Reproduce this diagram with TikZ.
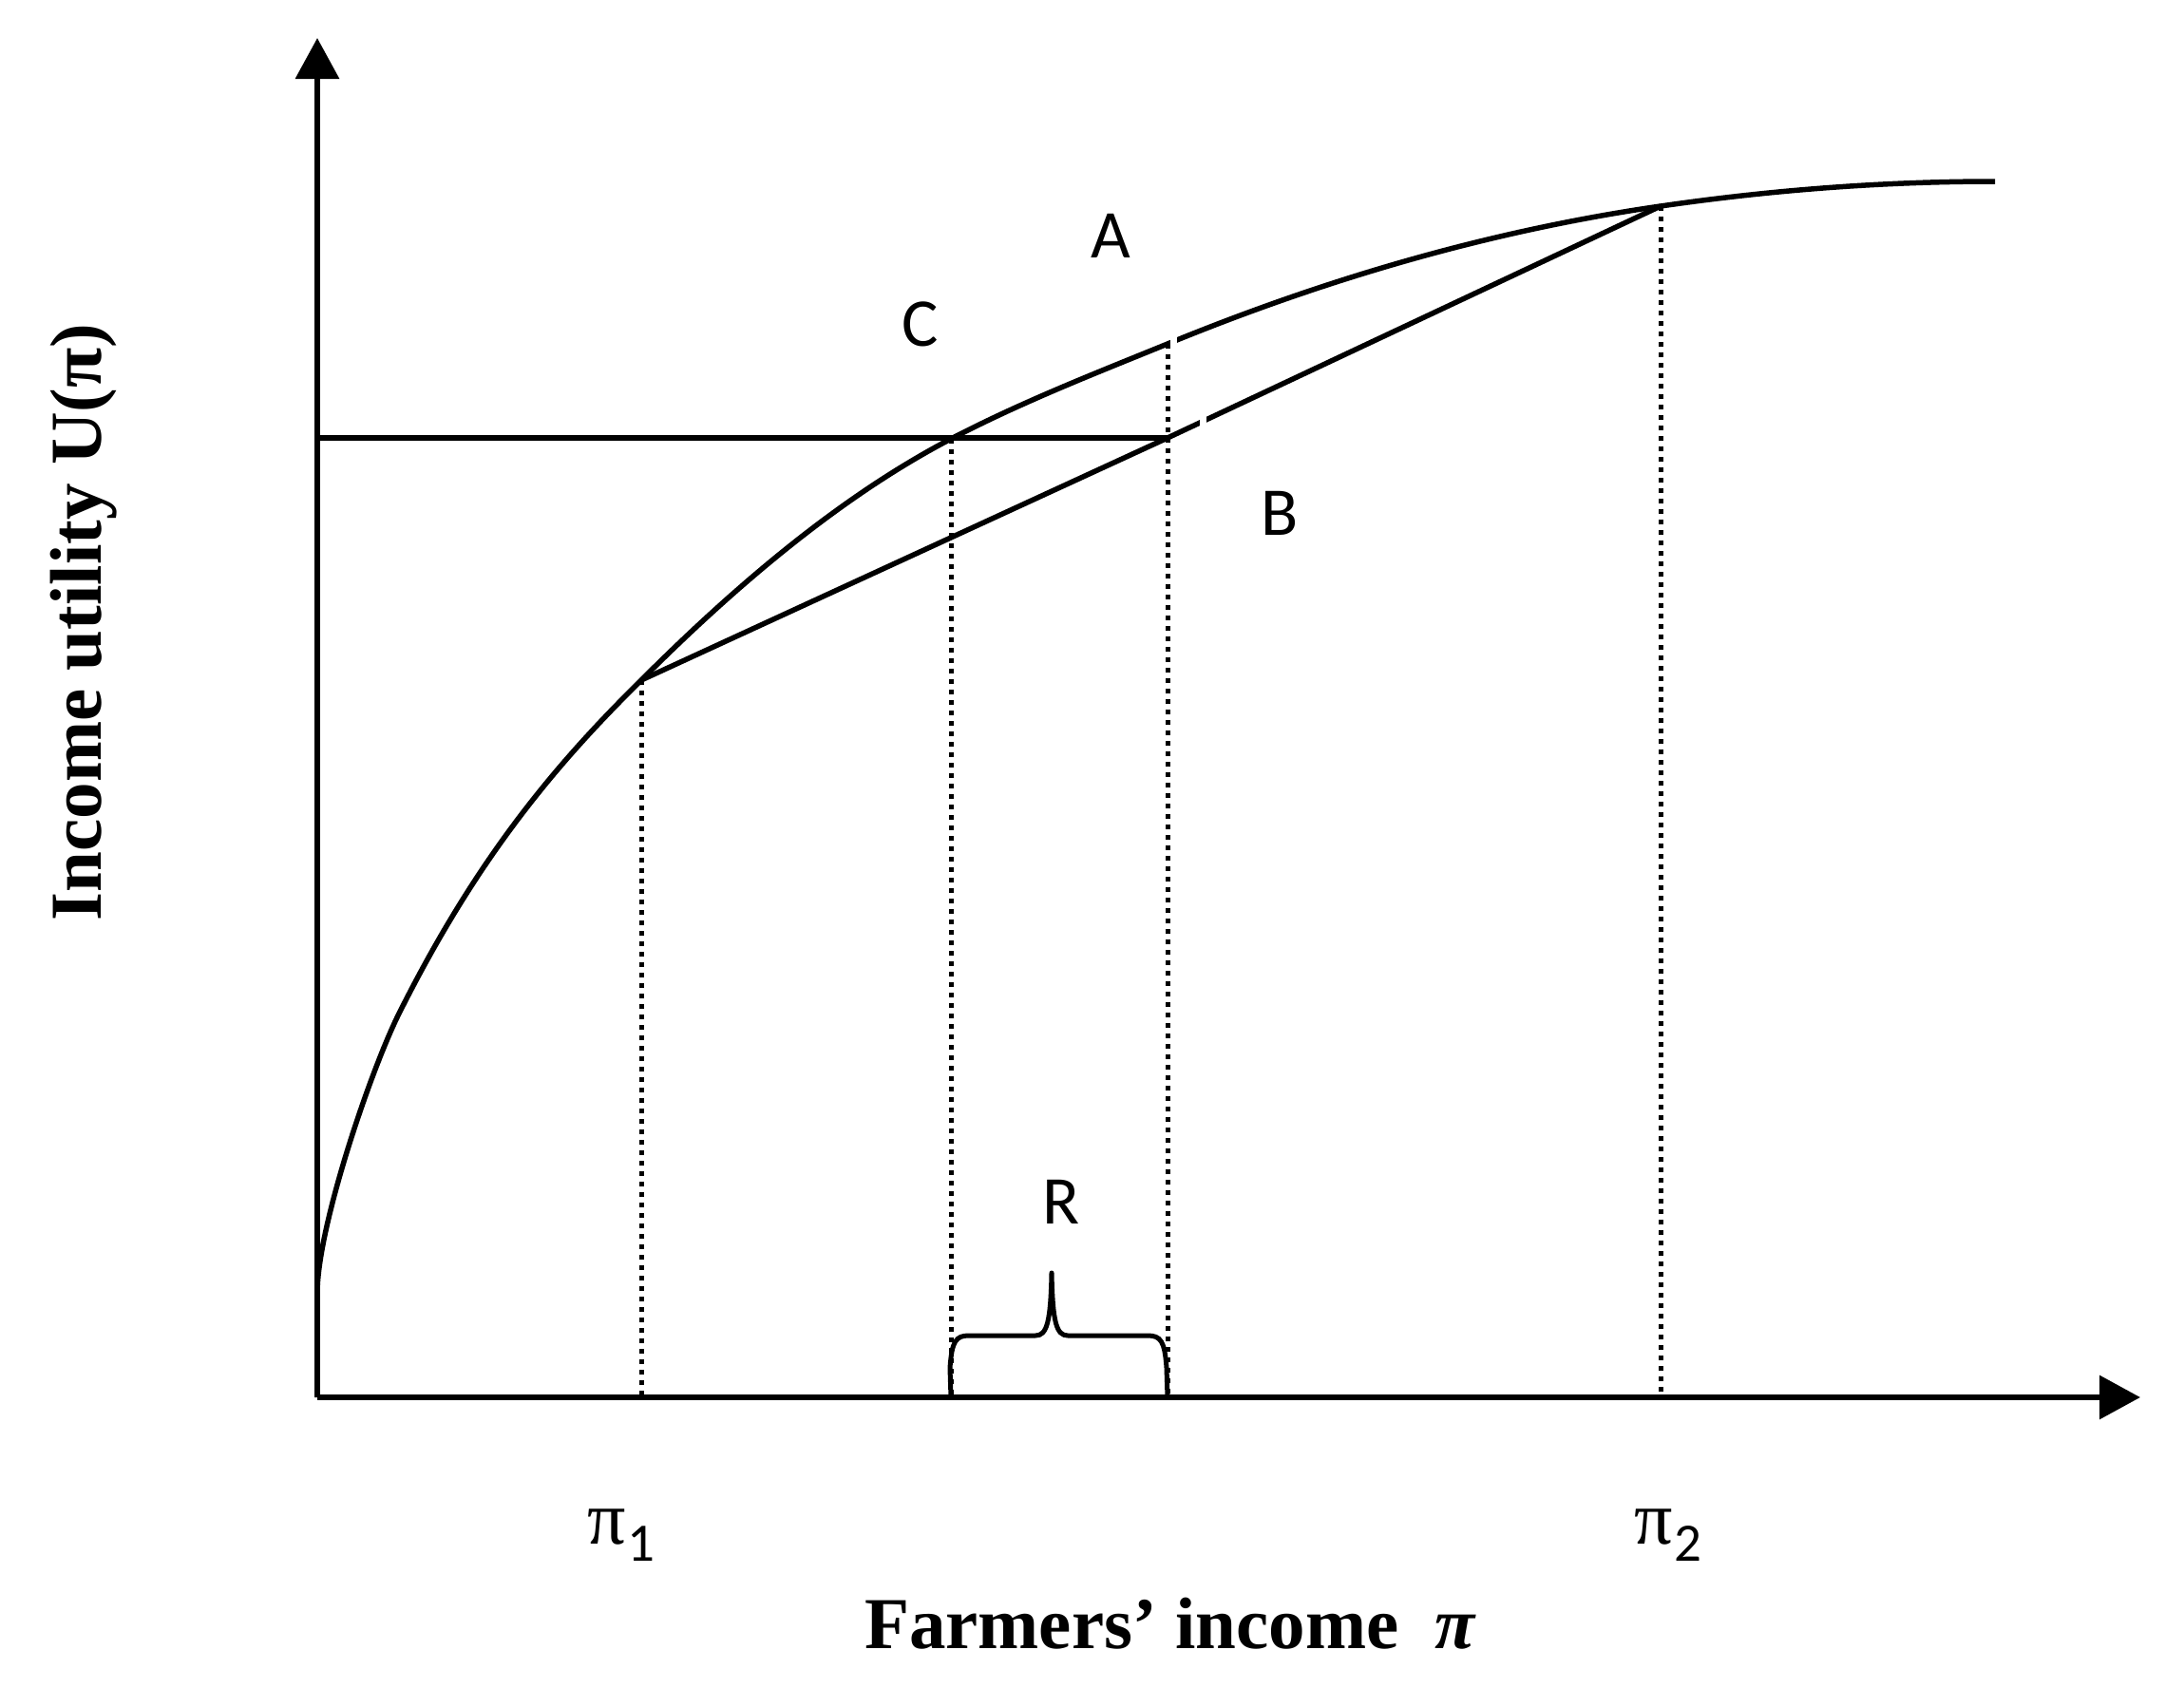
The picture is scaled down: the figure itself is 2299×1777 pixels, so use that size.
\documentclass[tikz,border=0pt]{standalone}
\usepackage{fontspec}
\setmainfont{Liberation Serif}
\newfontfamily\carl{Carlito}
\usetikzlibrary{arrows.meta}
\begin{document}
\begin{tikzpicture}[x=1pt,y=-1pt,
  axis/.style={line width=6.5pt, -{Triangle[length=43pt,width=45pt]}},
  curveline/.style={line width=5.5pt, line join=round},
  guide/.style={line width=5pt, dash pattern=on 4.5pt off 6.5pt},
  gap/.style={white, line width=7pt},
  lbl/.style={font=\carl\fontsize{72}{80}\selectfont, inner sep=0pt},
  pilbl/.style={inner sep=0pt, anchor=base west},
  axlbl/.style={inner sep=0pt, anchor=base, font=\bfseries\fontsize{77}{80}\selectfont}]
\useasboundingbox (0,0) rectangle (2299,1777);
\fill[white] (0,0) rectangle (2299,1777);
% key points
\coordinate (O) at (334,1471);
\coordinate (Ytip) at (334,40);
\coordinate (Xtip) at (2253,1471);
\coordinate (S) at (334,1361);
\coordinate (M) at (420,1067);
\coordinate (P1) at (675,716);
\coordinate (C0) at (1001,462);
\coordinate (Q) at (1229,362);
\coordinate (H) at (1229,461);
\coordinate (P2) at (1748,217);
\coordinate (E) at (2100,191);
\coordinate (L) at (334,461);
% guides
\draw[guide] (P1) -- (P1 |- O);
\draw[guide] (C0) -- (C0 |- O);
\draw[guide] (Q) -- (Q |- O);
\draw[guide] (P2) -- (P2 |- O);
% horizontal
\draw[line width=6pt] (L) -- (H);
% curve
\draw[curveline] (O) -- (S)
  .. controls (334,1291) and (391,1125) .. (M)
  .. controls (505,897) and (590,800) .. (P1)
  .. controls (784,607) and (892,519) .. (C0)
  .. controls (1077,422.5) and (1153,393) .. (Q)
  .. controls (1402,291) and (1575,242) .. (P2)
  .. controls (1865,200) and (1983,191) .. (E);
% chord
\draw[curveline] (P1) -- (H) -- (P2);
% small gaps
\draw[gap] (1235.5,343) -- (1235.5,374);
\draw[gap] (1266.5,434) -- (1266.5,454);
% axes
\draw[axis] (O) -- (Ytip);
\draw[axis] (O) -- (Xtip);
% brace
\draw[line width=5pt, line join=round] (C0 |- O) -- (1000,1440) .. controls (1002,1412) and (1006,1406) .. (1020,1406) -- (1090,1406) .. controls (1102,1406) and (1106,1392) .. (1107,1340) .. controls (1108,1392) and (1112,1406) .. (1124,1406) -- (1208,1406) .. controls (1222,1406) and (1226,1412) .. (1228,1440) -- (Q |- O);
% labels
\node[lbl] (A) at (1169,248) {A};
\node[lbl] (Cl) at (969,341) {C};
\node[lbl] (B) at (1347,540) {B};
\node[lbl] (R) at (1117,1265) {R};
\node[pilbl] (pi1) at (618,1625) {\fontsize{80}{80}\selectfont π\hspace{2pt}\raisebox{-18pt}{\carl\fontsize{57}{57}\selectfont 1}};
\node[pilbl] (pi2) at (1720,1625) {\fontsize{80}{80}\selectfont π\hspace{2pt}\raisebox{-18pt}{\carl\fontsize{57}{57}\selectfont 2}};
\node[axlbl] (xl) at (1232,1735) {Farmers’ income\hspace{38pt}\textit{π}};
\node[axlbl, rotate=90] (yl) at (106,655) {Income utility U(π)};
\end{tikzpicture}
\end{document}
